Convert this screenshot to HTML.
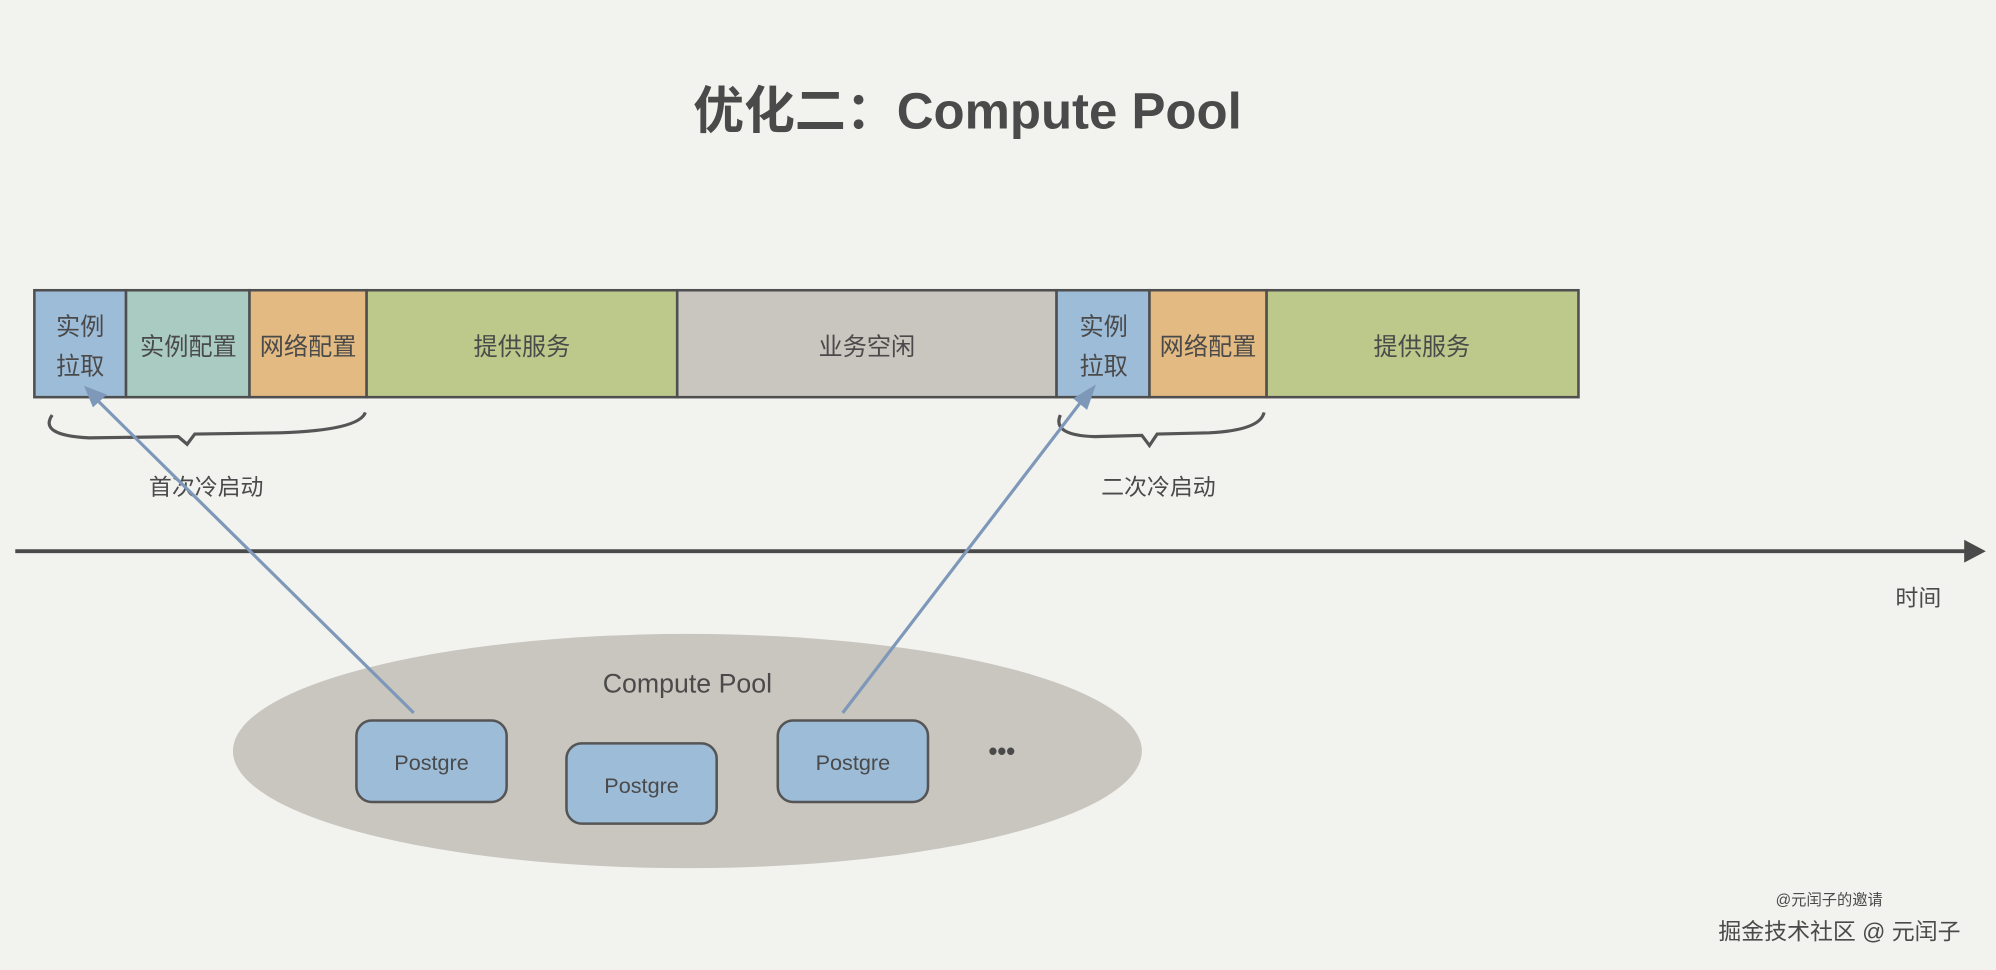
<!DOCTYPE html>
<html><head><meta charset="utf-8"><style>
html,body{margin:0;padding:0;background:#f2f2ef;}
svg{display:block}
text{font-family:"Liberation Sans","Noto Sans CJK SC",sans-serif;fill:#4a4a4a}
</style></head><body>
<svg width="1996" height="970" viewBox="0 0 1568 762" preserveAspectRatio="none" xmlns="http://www.w3.org/2000/svg">
<rect width="1568" height="762" fill="#f2f2ef"/>
<text x="760" y="101" font-size="40" font-weight="bold" text-anchor="middle" fill="#454545">优化二：Compute Pool</text>
<g stroke="#4f4f4f" stroke-width="2">
<rect x="27" y="228" width="72" height="84" fill="#9dbcd8"/>
<rect x="99" y="228" width="97" height="84" fill="#a9cbc2"/>
<rect x="196" y="228" width="92" height="84" fill="#e3ba82"/>
<rect x="288" y="228" width="244" height="84" fill="#bcc98b"/>
<rect x="532" y="228" width="298" height="84" fill="#c9c5bf"/>
<rect x="830" y="228" width="73" height="84" fill="#9dbcd8"/>
<rect x="903" y="228" width="92" height="84" fill="#e3ba82"/>
<rect x="995" y="228" width="245" height="84" fill="#bcc98b"/>
</g>
<g font-size="19" text-anchor="middle">
<text x="63" y="263">实例</text><text x="63" y="294">拉取</text>
<text x="148" y="279">实例配置</text>
<text x="242" y="279">网络配置</text>
<text x="410" y="279">提供服务</text>
<text x="681" y="279">业务空闲</text>
<text x="867" y="263">实例</text><text x="867" y="294">拉取</text>
<text x="949" y="279">网络配置</text>
<text x="1117" y="279">提供服务</text>
</g>
<g fill="none" stroke="#555" stroke-width="2.5">
<path d="M41 326 Q30 342 70 344 L140 343 L147 349 L153 341 L220 340 Q282 338 287 324"/>
<path d="M833 326 Q826 342 860 343 L897 342 L903 350 L909 341 L950 340 Q990 338 993 324"/>
</g>
<g font-size="18" text-anchor="middle">
<text x="162" y="389">首次冷启动</text>
<text x="910" y="389">二次冷启动</text>
<text x="1507" y="476">时间</text>
</g>
<line x1="12" y1="433" x2="1545" y2="433" stroke="#4a4a4a" stroke-width="3"/>
<polygon points="1543,424 1560,433 1543,442" fill="#4a4a4a"/>
<ellipse cx="540" cy="590" rx="357" ry="92" fill="#c9c5bf"/>
<text x="540" y="544" font-size="21" text-anchor="middle">Compute Pool</text>
<g stroke="#555" stroke-width="2" fill="#9dbcd8">
<rect x="280" y="566" width="118" height="64" rx="12"/>
<rect x="445" y="584" width="118" height="63" rx="12"/>
<rect x="611" y="566" width="118" height="64" rx="12"/>
</g>
<g font-size="17" text-anchor="middle">
<text x="339" y="605">Postgre</text>
<text x="504" y="623">Postgre</text>
<text x="670" y="605">Postgre</text>
</g>
<text x="787" y="597" font-size="20" text-anchor="middle" font-weight="bold">•••</text>
<g stroke="#7d98b8" stroke-width="2.5">
<line x1="325" y1="560" x2="74" y2="312"/>
<line x1="662" y1="560" x2="852" y2="312"/>
</g>
<polygon points="66,303 84,310 73,320" fill="#7d98b8"/>
<polygon points="861,302 854,322 843,313" fill="#7d98b8"/>
<text x="1437" y="711" font-size="12" text-anchor="middle" fill="#666">@元闰子的邀请</text>
<text x="1445" y="738" font-size="18" text-anchor="middle" fill="#555">掘金技术社区 @ 元闰子</text>
</svg>
</body></html>
